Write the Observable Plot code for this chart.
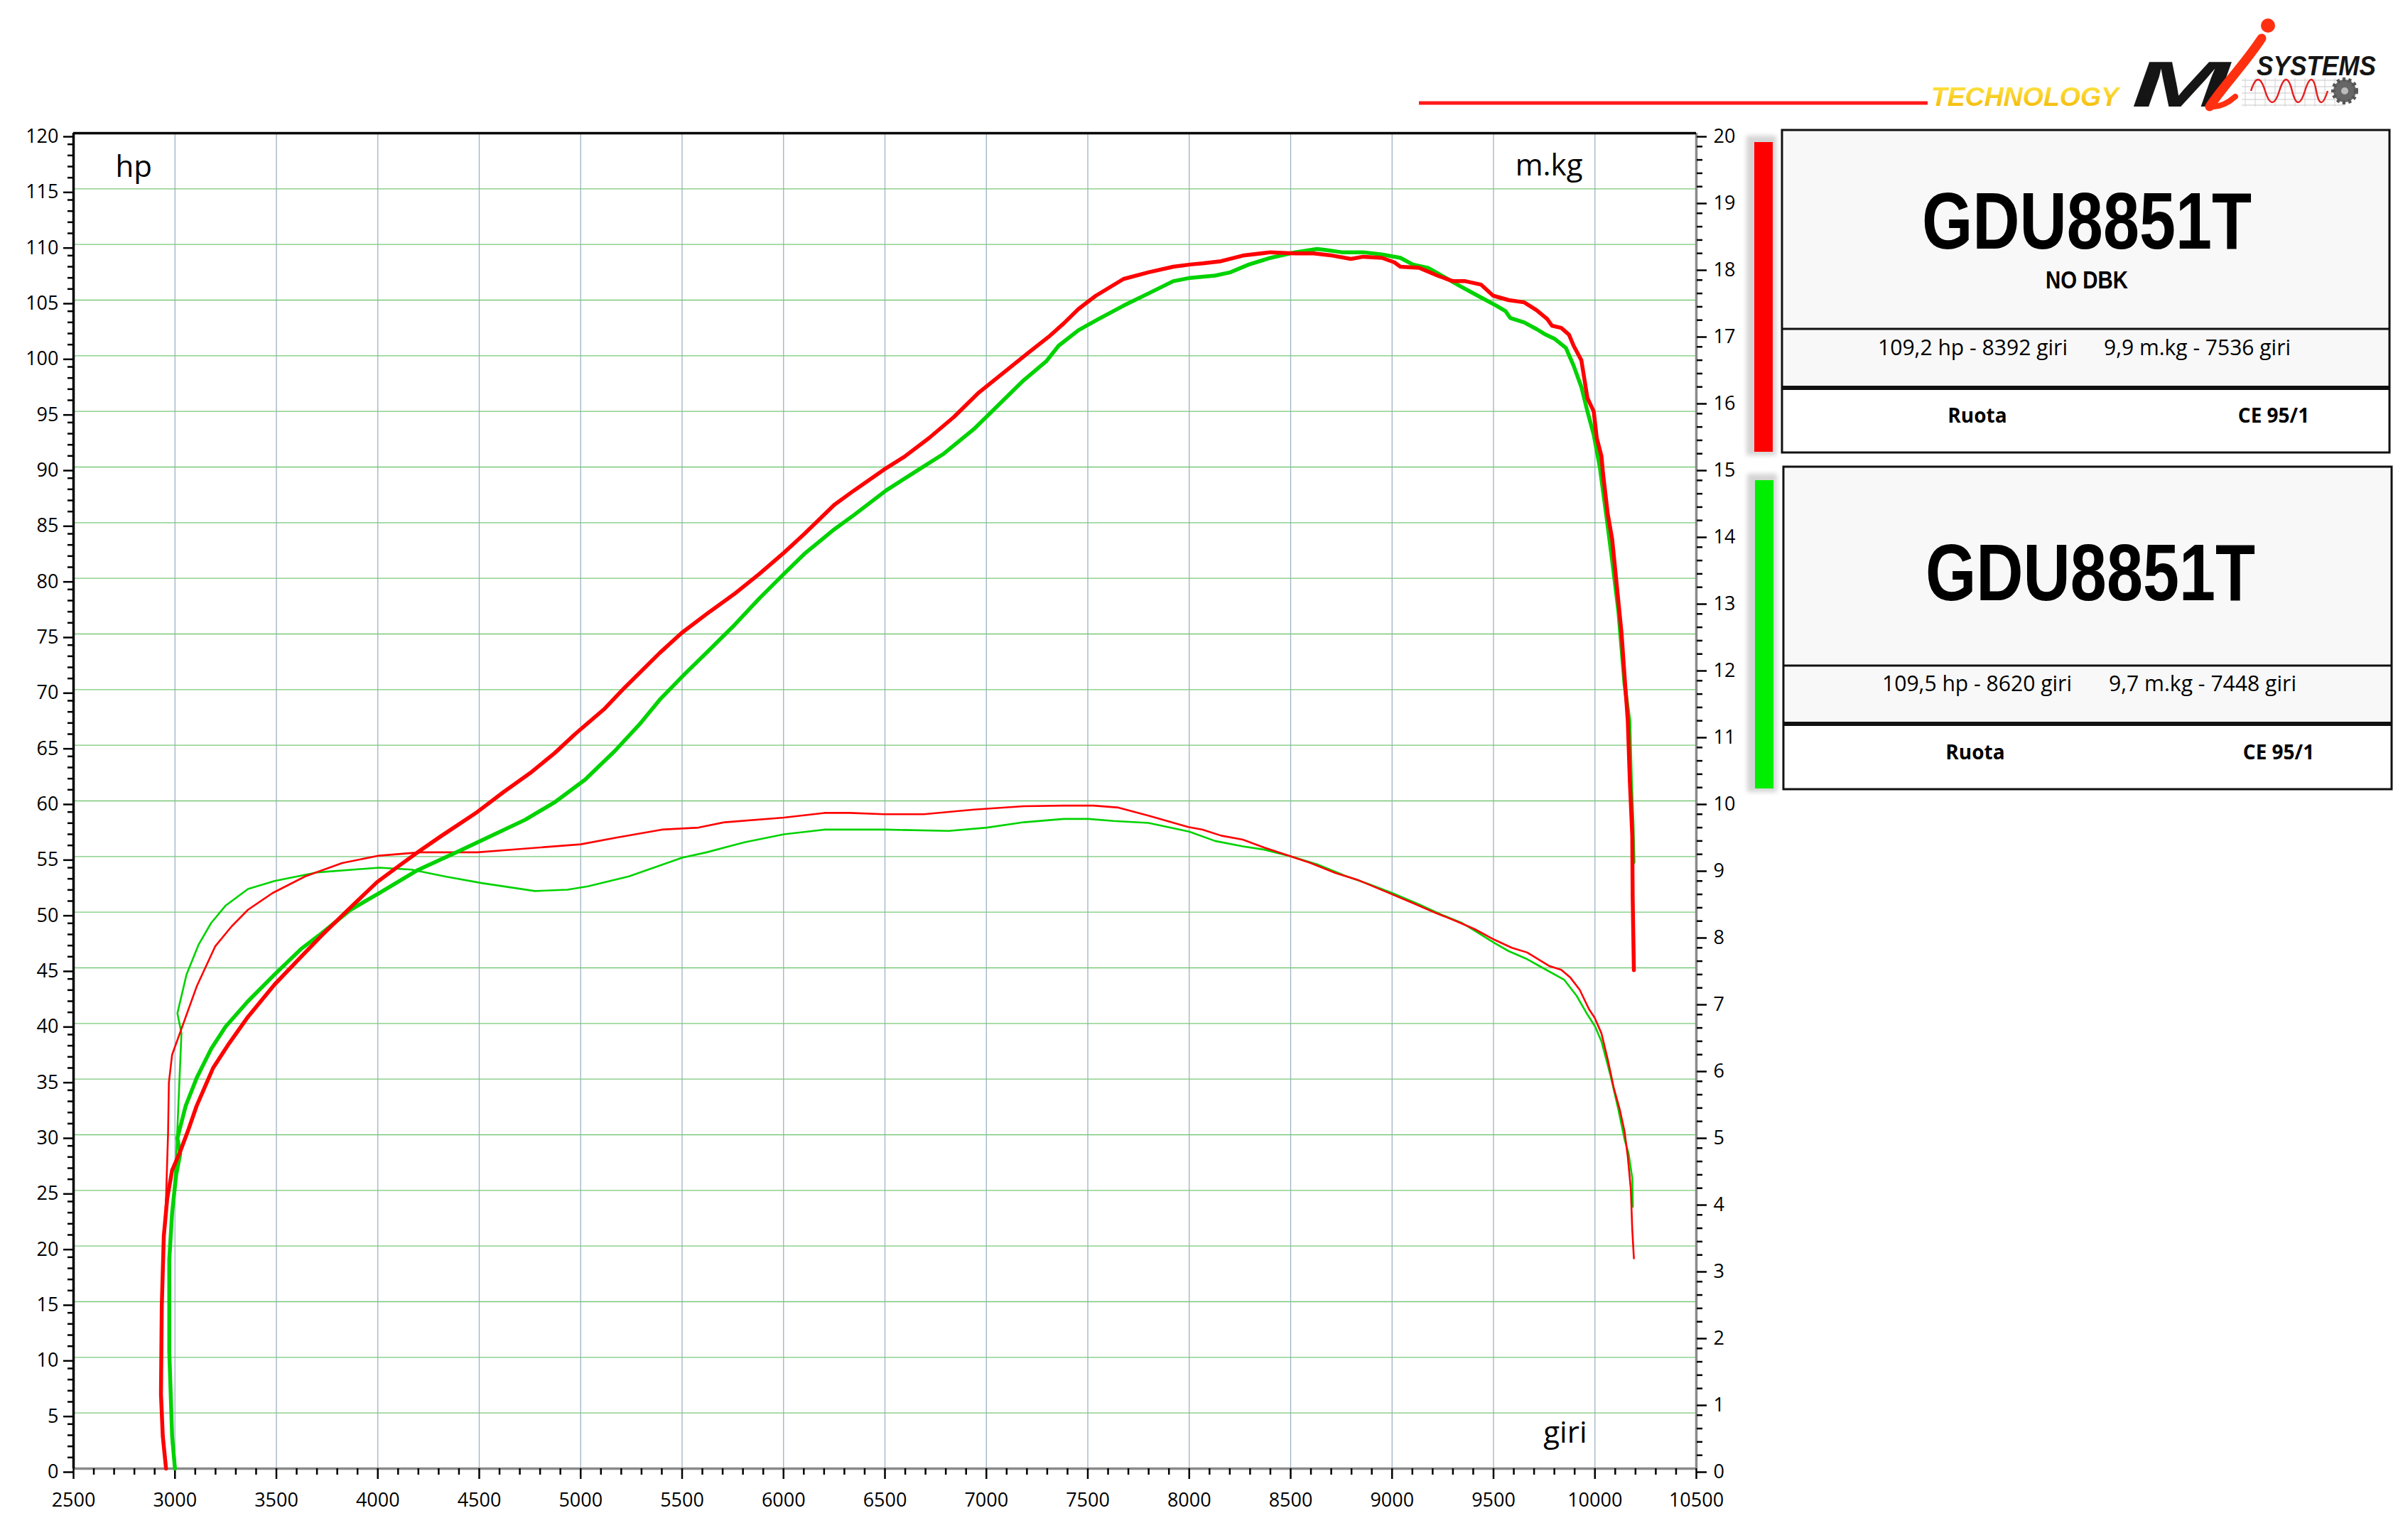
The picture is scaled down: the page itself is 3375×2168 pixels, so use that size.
<!DOCTYPE html>
<html><head><meta charset="utf-8">
<script src="https://cdn.jsdelivr.net/npm/d3@7"></script>
<script src="https://cdn.jsdelivr.net/npm/@observablehq/plot@0.6"></script>
<style>
html,body{margin:0;padding:0;background:#fff;overflow:hidden;}
#wrap{position:relative;width:3375px;height:2168px;}
#chart,#panel{position:absolute;left:0;top:0;}
#panel{pointer-events:none;}
</style></head><body>
<div id="wrap"><div id="chart"></div><svg id="panel" width="3375" height="2168"></svg></div>
<script>
// ---- data: [rpm, hp] ----
const redPower = [[2956,0],[2940,2.9],[2931,6.7],[2935,14.6],[2945,20.9],[2962,24.3],[2986,26.8],[3026,28.5],[3067,30.5],[3107,32.6],[3188,36],[3259,38],[3360,40.6],[3491,43.5],[3622,46],[3723,47.9],[3864,50.4],[3996,52.7],[4107,54.2],[4198,55.4],[4309,56.8],[4490,59],[4620,60.8],[4751,62.5],[4872,64.3],[4972,66],[5119,68.3],[5218,70.2],[5390,73.3],[5498,75.1],[5636,77],[5758,78.6],[5881,80.4],[6002,82.3],[6103,84],[6250,86.6],[6348,87.9],[6506,89.9],[6594,90.9],[6717,92.6],[6840,94.5],[6963,96.7],[7086,98.5],[7209,100.3],[7307,101.7],[7381,102.9],[7454,104.2],[7540,105.4],[7676,106.9],[7799,107.5],[7921,108],[8005,108.2],[8066,108.3],[8157,108.5],[8264,109],[8401,109.3],[8523,109.2],[8614,109.2],[8706,109],[8797,108.7],[8858,108.9],[8950,108.8],[9011,108.4],[9041,108],[9133,107.9],[9224,107.2],[9300,106.7],[9361,106.7],[9438,106.4],[9498,105.4],[9575,105],[9651,104.8],[9712,104.1],[9765,103.3],[9788,102.7],[9834,102.5],[9872,101.9],[9895,100.9],[9933,99.6],[9963,96.2],[9994,95],[10009,92.6],[10032,91],[10040,89.4],[10063,85.8],[10085,83.5],[10108,79.3],[10131,75.1],[10146,71.2],[10162,67.2],[10172,61.8],[10184,56.9],[10186,51.4],[10192,44.8]];
const greenPower = [[3000,0],[2986,2.9],[2972,10.5],[2972,18.8],[2986,23],[3006,26.4],[3026,28.3],[3012,29.7],[3053,32.6],[3107,35.1],[3178,37.7],[3249,39.7],[3360,42],[3491,44.4],[3622,46.7],[3723,48.1],[3864,50.2],[4005,51.7],[4198,53.8],[4390,55.4],[4505,56.4],[4726,58.3],[4874,59.9],[5021,61.9],[5169,64.5],[5291,66.9],[5390,69.1],[5513,71.4],[5636,73.6],[5758,75.8],[5881,78.2],[6002,80.4],[6103,82.2],[6250,84.4],[6348,85.7],[6506,87.9],[6643,89.5],[6790,91.2],[6938,93.4],[7061,95.6],[7184,97.8],[7295,99.5],[7356,100.9],[7454,102.3],[7553,103.3],[7676,104.5],[7799,105.6],[7921,106.7],[8005,107],[8127,107.2],[8203,107.5],[8294,108.2],[8401,108.8],[8523,109.3],[8630,109.6],[8675,109.5],[8752,109.3],[8858,109.3],[8950,109.1],[9041,108.8],[9102,108.2],[9178,107.9],[9255,107.1],[9331,106.3],[9422,105.4],[9514,104.5],[9560,104],[9582,103.4],[9651,103],[9712,102.4],[9757,101.9],[9803,101.5],[9857,100.7],[9895,99.1],[9933,97.2],[9963,95],[9994,92.9],[10024,90],[10055,85.8],[10085,81.6],[10116,77],[10146,70.5],[10169,67.2],[10177,61.8],[10185,58],[10190,54.5]];
// ---- data: [rpm, m.kg] ----
const redTorque = [[2945,3.42],[2956,4.05],[2966,5.02],[2970,5.78],[2986,6.2],[3036,6.62],[3107,7.22],[3198,7.82],[3279,8.12],[3360,8.37],[3481,8.62],[3642,8.87],[3824,9.07],[4006,9.18],[4208,9.23],[4491,9.23],[4700,9.28],[5000,9.35],[5175,9.45],[5400,9.57],[5581,9.6],[5709,9.68],[6002,9.75],[6201,9.82],[6324,9.82],[6496,9.8],[6692,9.8],[6938,9.87],[7184,9.92],[7381,9.93],[7528,9.93],[7651,9.9],[7799,9.78],[7995,9.61],[8066,9.57],[8157,9.48],[8264,9.42],[8370,9.3],[8500,9.17],[8599,9.07],[8721,8.92],[8828,8.82],[9001,8.6],[9102,8.47],[9209,8.33],[9316,8.2],[9407,8.08],[9505,7.92],[9590,7.8],[9666,7.73],[9773,7.53],[9834,7.47],[9880,7.35],[9925,7.17],[9971,6.88],[9999,6.75],[10032,6.52],[10063,6.13],[10093,5.7],[10123,5.37],[10146,5.05],[10162,4.67],[10177,4.18],[10184,3.58],[10192,3.15]];
const greenTorque = [[2990,4.0],[3006,4.67],[3032,6.52],[3012,6.82],[3057,7.4],[3117,7.85],[3178,8.17],[3249,8.43],[3360,8.68],[3491,8.8],[3703,8.93],[4006,9.0],[4167,8.97],[4329,8.87],[4511,8.77],[4774,8.65],[4935,8.67],[5036,8.72],[5238,8.87],[5500,9.15],[5621,9.23],[5808,9.38],[6002,9.5],[6201,9.57],[6506,9.57],[6815,9.55],[7002,9.6],[7184,9.68],[7381,9.73],[7504,9.73],[7627,9.7],[7799,9.67],[8000,9.54],[8127,9.4],[8264,9.32],[8370,9.27],[8500,9.17],[8630,9.05],[8767,8.88],[8889,8.75],[9001,8.62],[9133,8.45],[9240,8.3],[9346,8.17],[9505,7.87],[9575,7.75],[9666,7.63],[9742,7.5],[9849,7.32],[9910,7.08],[9963,6.8],[10001,6.62],[10032,6.4],[10078,5.87],[10116,5.37],[10146,4.93],[10166,4.72],[10184,4.35],[10187,3.92]];

// ---- tick labels ----
const rpmTicks = d3.range(2500, 10501, 500);
const rpmMinor = d3.range(2500, 10501, 100).filter(v => v % 500 !== 0);
const hpTicks = d3.range(0, 121, 5);
const hpMinor = d3.range(0, 121, 1).filter(v => v % 5 !== 0);
const mkgTicks = d3.range(0, 21, 1);
const mkgMinor = d3.range(0, 100).map(i => i / 5).filter(v => Math.abs(v - Math.round(v)) > 1e-6);
const HP_PER_MKG = 6; // right axis 0..20 m.kg aligned with left axis 0..120 hp

// ---- panel texts ----
const panelCodes = ["GDU8851T", "GDU8851T"];
const panelSubs = ["NO DBK", ""];
const panelPower = ["109,2 hp - 8392 giri", "109,5 hp - 8620 giri"];
const panelTorque = ["9,9 m.kg - 7536 giri", "9,7 m.kg - 7448 giri"];
const panelLeft = ["Ruota", "Ruota"];
const panelRight = ["CE 95/1", "CE 95/1"];
const panelColors = ["#ff0000", "#00ee00"];

const RED = "#ff0000", GREEN = "#00d200";
const tick = {stroke: "#000", strokeWidth: 2.5, fontSize: 27, label: null};

const chart = Plot.plot({
  width: 3375, height: 2168,
  marginLeft: 103, marginRight: 988, marginTop: 187, marginBottom: 101,
  style: {fontFamily: "'Open Sans', sans-serif", fontSize: "27px", background: "transparent", color: "#000"},
  x: {domain: [2500, 10500]},
  y: {domain: [0, 120]},
  marks: [
    Plot.gridX(rpmTicks.filter(v => v > 2500 && v < 10500), {stroke: "#9fb2c4", strokeOpacity: 1, strokeWidth: 1.3}),
    Plot.gridY(hpTicks.filter(v => v > 0 && v < 120), {stroke: "#78c878", strokeOpacity: 1, strokeWidth: 1.3}),
    Plot.ruleX([10500], {stroke: "#8a8a8a", strokeWidth: 3.5}),
    Plot.ruleY([0], {stroke: "#8a8a8a", strokeWidth: 3.5}),
    Plot.ruleX([2500], {stroke: "#000", strokeWidth: 3.5}),
    Plot.ruleY([120], {stroke: "#000", strokeWidth: 3.5}),
    Plot.axisX(rpmTicks, {...tick, anchor: "bottom", tickSize: 15, tickPadding: 19, tickFormat: d => String(d)}),
    Plot.axisX(rpmMinor, {...tick, anchor: "bottom", tickSize: 9, tickFormat: () => ""}),
    Plot.axisY(hpTicks, {...tick, anchor: "left", tickSize: 14, tickPadding: 7, dy: 5, tickFormat: d => String(d)}),
    Plot.axisY(hpMinor, {...tick, anchor: "left", tickSize: 8, tickFormat: () => ""}),
    Plot.axisY(mkgTicks.map(v => v * HP_PER_MKG), {...tick, anchor: "right", tickSize: 14, tickPadding: 10, dy: 5, tickFormat: d => String(Math.round(d / HP_PER_MKG))}),
    Plot.axisY(mkgMinor.map(v => v * HP_PER_MKG), {...tick, anchor: "right", tickSize: 8, tickFormat: () => ""}),
    Plot.line(greenTorque, {x: d => d[0], y: d => d[1] * HP_PER_MKG, stroke: GREEN, strokeWidth: 2.6}),
    Plot.line(redTorque, {x: d => d[0], y: d => d[1] * HP_PER_MKG, stroke: RED, strokeWidth: 2.6}),
    Plot.line(greenPower, {x: d => d[0], y: d => d[1], stroke: GREEN, strokeWidth: 5.5}),
    Plot.line(redPower, {x: d => d[0], y: d => d[1], stroke: RED, strokeWidth: 5.5}),
    Plot.text(["hp"], {frameAnchor: "top-left", text: d => d, textAnchor: "start", lineAnchor: "bottom", dx: 59, dy: 61, fontSize: 42, fill: "#000"}),
    Plot.text(["m.kg"], {frameAnchor: "top-right", text: d => d, textAnchor: "end", lineAnchor: "bottom", dx: -160, dy: 59, fontSize: 42, fill: "#000"}),
    Plot.text(["giri"], {frameAnchor: "bottom-right", text: d => d, textAnchor: "end", lineAnchor: "bottom", dx: -154, dy: -37, fontSize: 42, fill: "#000"})
  ]
});
document.getElementById("chart").appendChild(chart);

// ---- panels & logo (layout) ----
const svg = d3.select("#panel");
const defs = svg.append("defs");
defs.append("filter").attr("id", "blur").append("feGaussianBlur").attr("stdDeviation", 3);
const gold = defs.append("linearGradient").attr("id", "gold").attr("x1", 0).attr("y1", 0).attr("x2", 0).attr("y2", 1);
gold.append("stop").attr("offset", "0").attr("stop-color", "#ffe84a");
gold.append("stop").attr("offset", "1").attr("stop-color", "#f2b400");

const layout = [
  {x0: 2508, x1: 3363, y0: 183, tB: 463, sB: 546, y1: 637, bar: [2469, 200, 26, 436], titleBase: 350, subBase: 406, statBase: 500, footBase: 595, hpX: [2643, 267], tqX: [2961, 263], leftC: 2783, rightC: 3200, titleC: 2937},
  {x0: 2510, x1: 3366, y0: 657, tB: 937, sB: 1019, y1: 1111, bar: [2470, 676, 26, 434], titleBase: 845, subBase: 0, statBase: 973, footBase: 1069, hpX: [2649, 267], tqX: [2968, 264], leftC: 2780, rightC: 3207, titleC: 2942}
];
const cond = "'Liberation Sans Narrow','Arial Narrow','Liberation Sans',Arial,sans-serif";
layout.forEach((L, i) => {
  const g = svg.append("g");
  const [bx, by, bw, bh] = L.bar;
  g.append("rect").attr("x", bx - 11).attr("y", by - 9).attr("width", bw + 16).attr("height", bh + 14).attr("fill", "#d4d4d4").attr("filter", "url(#blur)");
  g.append("rect").attr("x", bx).attr("y", by).attr("width", bw).attr("height", bh).attr("fill", panelColors[i]);
  g.append("rect").attr("x", L.x0).attr("y", L.y0).attr("width", L.x1 - L.x0).attr("height", L.sB - L.y0).attr("fill", "#f8f8f8");
  g.append("rect").attr("x", L.x0).attr("y", L.sB).attr("width", L.x1 - L.x0).attr("height", L.y1 - L.sB).attr("fill", "#fff");
  g.append("rect").attr("x", L.x0).attr("y", L.y0).attr("width", L.x1 - L.x0).attr("height", L.y1 - L.y0).attr("fill", "none").attr("stroke", "#111").attr("stroke-width", 3);
  g.append("line").attr("x1", L.x0).attr("x2", L.x1).attr("y1", L.tB).attr("y2", L.tB).attr("stroke", "#111").attr("stroke-width", 3);
  g.append("line").attr("x1", L.x0).attr("x2", L.x1).attr("y1", L.sB).attr("y2", L.sB).attr("stroke", "#111").attr("stroke-width", 6);
  g.append("text").attr("x", L.titleC - 232).attr("y", L.titleBase).attr("textLength", 464).attr("lengthAdjust", "spacingAndGlyphs")
    .attr("font-family", cond).attr("font-weight", "bold").attr("font-size", 114).attr("fill", "#000").text(panelCodes[i]);
  if (panelSubs[i]) g.append("text").attr("x", L.titleC - 58).attr("y", L.subBase).attr("textLength", 116).attr("lengthAdjust", "spacingAndGlyphs")
    .attr("font-family", cond).attr("font-weight", "bold").attr("font-size", 35).attr("fill", "#000").text(panelSubs[i]);
  g.append("text").attr("x", L.hpX[0]).attr("y", L.statBase).attr("textLength", L.hpX[1]).attr("lengthAdjust", "spacingAndGlyphs")
    .attr("font-family", "'Open Sans',sans-serif").attr("font-size", 31).attr("fill", "#000").text(panelPower[i]);
  g.append("text").attr("x", L.tqX[0]).attr("y", L.statBase).attr("textLength", L.tqX[1]).attr("lengthAdjust", "spacingAndGlyphs")
    .attr("font-family", "'Open Sans',sans-serif").attr("font-size", 31).attr("fill", "#000").text(panelTorque[i]);
  g.append("text").attr("x", L.leftC).attr("y", L.footBase).attr("text-anchor", "middle")
    .attr("font-family", "'Open Sans',sans-serif").attr("font-weight", "bold").attr("font-size", 28).attr("fill", "#000").text(panelLeft[i]);
  g.append("text").attr("x", L.rightC).attr("y", L.footBase).attr("text-anchor", "middle")
    .attr("font-family", "'Open Sans',sans-serif").attr("font-weight", "bold").attr("font-size", 28).attr("fill", "#000").text(panelRight[i]);
});

// logo
const logo = svg.append("g");
logo.append("line").attr("x1", 1997).attr("x2", 2713).attr("y1", 145).attr("y2", 145).attr("stroke", "#ff1a1a").attr("stroke-width", 5);
logo.append("text").attr("x", 2718).attr("y", 149).attr("textLength", 264).attr("lengthAdjust", "spacingAndGlyphs")
  .attr("font-family", "'Liberation Sans',Arial,sans-serif").attr("font-weight", "bold").attr("font-style", "italic").attr("font-size", 37).attr("fill", "url(#gold)").text("TECHNOLOGY");
// grid behind wave
[113, 122, 131, 140, 148].forEach(y => logo.append("line").attr("x1", 3155).attr("x2", 3300).attr("y1", y).attr("y2", y).attr("stroke", "#c8c8c8").attr("stroke-width", 1.2));
d3.range(3160, 3300, 14).forEach(x => logo.append("line").attr("x1", x).attr("x2", x).attr("y1", 110).attr("y2", 150).attr("stroke", "#d0d0d0").attr("stroke-width", 1));
logo.append("text").attr("x", 3000).attr("y", 150).attr("textLength", 138).attr("lengthAdjust", "spacingAndGlyphs")
  .attr("font-family", "'Liberation Sans',Arial,sans-serif").attr("font-weight", "bold").attr("font-style", "italic").attr("font-size", 90).attr("fill", "#151515").text("M");
logo.append("path").attr("d", "M3168,128 Q3178,96 3188,128 T3208,128 T3226,128 T3244,128 T3260,128 T3276,128").attr("fill", "none").attr("stroke", "#e82020").attr("stroke-width", 2.5);
logo.append("circle").attr("cx", 3300).attr("cy", 128).attr("r", 16).attr("fill", "#666").attr("stroke", "#555").attr("stroke-width", 6).attr("stroke-dasharray", "4 4");
logo.append("circle").attr("cx", 3300).attr("cy", 128).attr("r", 5).attr("fill", "#bbb");
logo.append("path").attr("d", "M3110,150 C3128,122 3158,92 3183,54").attr("fill", "none").attr("stroke", "#ff3010").attr("stroke-width", 13).attr("stroke-linecap", "round");
logo.append("path").attr("d", "M3110,150 Q3128,152 3146,136").attr("fill", "none").attr("stroke", "#ff3010").attr("stroke-width", 8).attr("stroke-linecap", "round");
logo.append("circle").attr("cx", 3192).attr("cy", 36).attr("r", 10).attr("fill", "#ff3010");
logo.append("text").attr("x", 3176).attr("y", 106).attr("textLength", 168).attr("lengthAdjust", "spacingAndGlyphs")
  .attr("font-family", "'Liberation Sans',Arial,sans-serif").attr("font-weight", "bold").attr("font-style", "italic").attr("font-size", 38).attr("fill", "#151515").text("SYSTEMS");
</script>
</body></html>
